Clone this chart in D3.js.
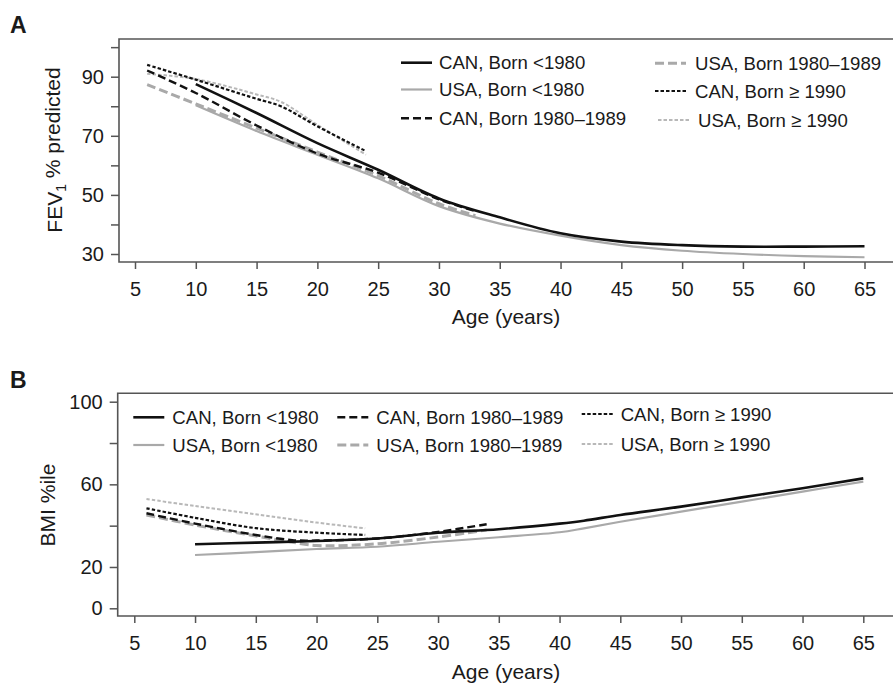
<!DOCTYPE html>
<html>
<head>
<meta charset="utf-8">
<script src="https://cdn.jsdelivr.net/npm/d3@7"></script>
<style>
  body { margin: 0; background: #fff; }
  text { font-family: "Liberation Sans", Arial, Helvetica, sans-serif; fill: #1a1a1a; }
</style>
</head>
<body>
<svg id="chart" width="893" height="684"></svg>
<script>
// ---- data ----
const xTicks = [5, 10, 15, 20, 25, 30, 35, 40, 45, 50, 55, 60, 65];

// Panel A: FEV1 % predicted
const fevTicks = [30, 40, 50, 60, 70, 80, 90, 100];
const fevLabels = [30, 50, 70, 90];
const fevAgesPre80 = [10, 15, 20, 25, 30, 35, 40, 45, 50, 55, 60, 65];
const fevCanPre80 = [87.5, 77.7, 67.5, 58.5, 48.8, 42.4, 37.0, 34.2, 33.0, 32.5, 32.5, 32.6];
const fevUsaPre80 = [80.3, 71.6, 63.6, 55.6, 46.2, 40.3, 36.2, 33.0, 31.1, 30.0, 29.3, 28.9];
const fevAges8089 = [6, 10, 15, 20, 25, 30, 33];
const fevCan8089 = [92.1, 84.5, 73.5, 64.0, 57.5, 48.5, 44.5];
const fevUsa8089 = [87.3, 80.8, 72.6, 64.5, 56.5, 47.0, 43.0];
const fevAges90 = [6, 10, 15, 17, 20, 24];
const fevCan90 = [94.0, 89.0, 82.5, 80.0, 73.2, 64.8];
const fevUsa90 = [91.0, 89.2, 84.0, 81.5, 73.7, 63.6];

// Panel B: BMI percentile
const bmiTicks = [0, 20, 40, 60, 80, 100];
const bmiLabels = [0, 20, 60, 100];
const bmiAgesPre80 = [10, 15, 20, 25, 30, 35, 40, 42, 45, 50, 55, 60, 65];
const bmiCanPre80 = [31.0, 31.8, 32.6, 33.8, 36.6, 38.3, 41.0, 42.4, 45.2, 49.2, 53.7, 58.1, 62.9];
const bmiUsaPre80 = [25.8, 27.2, 28.7, 29.8, 32.2, 34.4, 36.8, 38.7, 41.9, 46.8, 51.6, 56.5, 61.3];
const bmiAges8089 = [6, 10, 15, 18, 20, 25, 30, 34];
const bmiCan8089 = [46.0, 41.0, 35.5, 33.0, 32.8, 33.8, 37.0, 40.7];
const bmiUsa8089 = [45.2, 40.3, 35.0, 32.0, 30.4, 31.2, 34.5, 37.9];
const bmiAges90 = [6, 10, 15, 20, 24];
const bmiCan90 = [48.4, 43.8, 38.8, 36.6, 35.5];
const bmiUsa90 = [52.9, 49.5, 45.5, 41.5, 38.7];

// ---- line styles per series ----
const styles = {
  canPre80: { label: "CAN, Born <1980", color: "#111", width: 2.6, dash: null },
  usaPre80: { label: "USA, Born <1980", color: "#a9a9a9", width: 2.2, dash: null },
  can8089: { label: "CAN, Born 1980\u20131989", color: "#111", width: 2.4, dash: "8,4" },
  usa8089: { label: "USA, Born 1980\u20131989", color: "#a9a9a9", width: 3, dash: "9,4" },
  can90: { label: "CAN, Born \u2265 1990", color: "#111", width: 2.2, dash: "3.5,2" },
  usa90: { label: "USA, Born \u2265 1990", color: "#b8b8b8", width: 2, dash: "3.5,2" },
};

const zip = (ages, vals) => ages.map((a, i) => ({ age: a, v: vals[i] }));

const svg = d3.select("#chart");

function drawPanel(p) {
  const g = svg.append("g");

  const x = d3.scaleLinear().domain([5, 65]).range(p.xRange);
  const y = d3.scaleLinear().domain(p.yDomain).range(p.yRange);

  // frame (right side runs off the picture)
  g.append("path")
    .attr("d", `M${p.box.right},${p.box.top}H${p.box.left}V${p.box.bottom}H${p.box.right}`)
    .attr("fill", "none")
    .attr("stroke", "#555")
    .attr("stroke-width", 1.6);

  const xAxis = g.append("g")
    .attr("transform", `translate(0,${p.box.bottom})`)
    .call(d3.axisBottom(x).tickValues(xTicks).tickSize(7).tickPadding(13));
  const yAxis = g.append("g")
    .attr("transform", `translate(${p.box.left},0)`)
    .call(d3.axisLeft(y).tickValues(p.yTicks).tickSize(8).tickPadding(7)
      .tickFormat(d => p.yLabels.includes(d) ? d : ""));

  [xAxis, yAxis].forEach(ax => {
    ax.select(".domain").remove();
    ax.selectAll(".tick line").attr("stroke", "#555").attr("stroke-width", 1.5);
    ax.selectAll(".tick text").style("font-size", "20px").attr("fill", "#1a1a1a");
  });

  // curves
  const line = d3.line()
    .x(d => x(d.age))
    .y(d => y(d.v))
    .curve(d3.curveCatmullRom.alpha(0.5));

  p.series.forEach(s => {
    const st = styles[s.key];
    g.append("path")
      .datum(s.data)
      .attr("d", line)
      .attr("fill", "none")
      .attr("stroke", st.color)
      .attr("stroke-width", st.width)
      .attr("stroke-dasharray", st.dash);
  });

  // legend
  p.legend.forEach(l => {
    const st = styles[l.key];
    g.append("line")
      .attr("x1", l.x).attr("x2", l.x + 31)
      .attr("y1", l.y).attr("y2", l.y)
      .attr("stroke", st.color)
      .attr("stroke-width", st.width)
      .attr("stroke-dasharray", st.dash);
    g.append("text")
      .attr("x", l.x + l.gap)
      .attr("y", l.y)
      .attr("dy", "0.36em")
      .style("font-size", "18.6px")
      .text(st.label);
  });

  // axis titles
  g.append("text")
    .attr("x", 506)
    .attr("y", p.xTitleY)
    .attr("text-anchor", "middle")
    .style("font-size", "21px")
    .text("Age (years)");

  const yt = g.append("text")
    .attr("transform", `translate(${p.yTitleX},${p.yTitleY}) rotate(-90)`)
    .attr("text-anchor", "middle")
    .style("font-size", "21px");
  p.yTitle(yt);

  // panel letter
  g.append("text")
    .attr("x", 10)
    .attr("y", p.letterY)
    .style("font-size", "23px")
    .style("font-weight", "bold")
    .text(p.letter);
}

drawPanel({
  letter: "A",
  letterY: 33,
  box: { left: 119, top: 39, bottom: 262, right: 900 },
  xRange: [135, 864.5],
  yDomain: [30, 90],
  yRange: [254, 76.7],
  yTicks: fevTicks,
  yLabels: fevLabels,
  xTitleY: 324,
  yTitleX: 62,
  yTitleY: 150,
  yTitle: t => {
    t.append("tspan").text("FEV");
    t.append("tspan").attr("dy", "0.3em").style("font-size", "14px").text("1");
    t.append("tspan").attr("dy", "-0.3em").text(" % predicted");
  },
  series: [
    { key: "usaPre80", data: zip(fevAgesPre80, fevUsaPre80) },
    { key: "usa8089", data: zip(fevAges8089, fevUsa8089) },
    { key: "usa90", data: zip(fevAges90, fevUsa90) },
    { key: "canPre80", data: zip(fevAgesPre80, fevCanPre80) },
    { key: "can8089", data: zip(fevAges8089, fevCan8089) },
    { key: "can90", data: zip(fevAges90, fevCan90) },
  ],
  legend: [
    { key: "canPre80", x: 401, y: 62.7, gap: 38 },
    { key: "usaPre80", x: 401, y: 89.5, gap: 38 },
    { key: "can8089", x: 401, y: 118.3, gap: 38 },
    { key: "usa8089", x: 655, y: 63.3, gap: 40 },
    { key: "can90", x: 655, y: 91, gap: 40 },
    { key: "usa90", x: 658, y: 120, gap: 40 },
  ],
});

drawPanel({
  letter: "B",
  letterY: 388,
  box: { left: 117.7, top: 393.3, bottom: 616, right: 900 },
  xRange: [134.3, 863.3],
  yDomain: [0, 100],
  yRange: [608.3, 401.7],
  yTicks: bmiTicks,
  yLabels: bmiLabels,
  xTitleY: 679,
  yTitleX: 55,
  yTitleY: 505,
  yTitle: t => t.text("BMI %ile"),
  series: [
    { key: "usaPre80", data: zip(bmiAgesPre80, bmiUsaPre80) },
    { key: "usa8089", data: zip(bmiAges8089, bmiUsa8089) },
    { key: "usa90", data: zip(bmiAges90, bmiUsa90) },
    { key: "canPre80", data: zip(bmiAgesPre80, bmiCanPre80) },
    { key: "can8089", data: zip(bmiAges8089, bmiCan8089) },
    { key: "can90", data: zip(bmiAges90, bmiCan90) },
  ],
  legend: [
    { key: "canPre80", x: 133.3, y: 417.3, gap: 39 },
    { key: "usaPre80", x: 133.3, y: 445, gap: 39 },
    { key: "can8089", x: 337.3, y: 417.3, gap: 39 },
    { key: "usa8089", x: 337.3, y: 445, gap: 39 },
    { key: "can90", x: 581.7, y: 414, gap: 39 },
    { key: "usa90", x: 581.7, y: 444, gap: 39 },
  ],
});
</script>
</body>
</html>
